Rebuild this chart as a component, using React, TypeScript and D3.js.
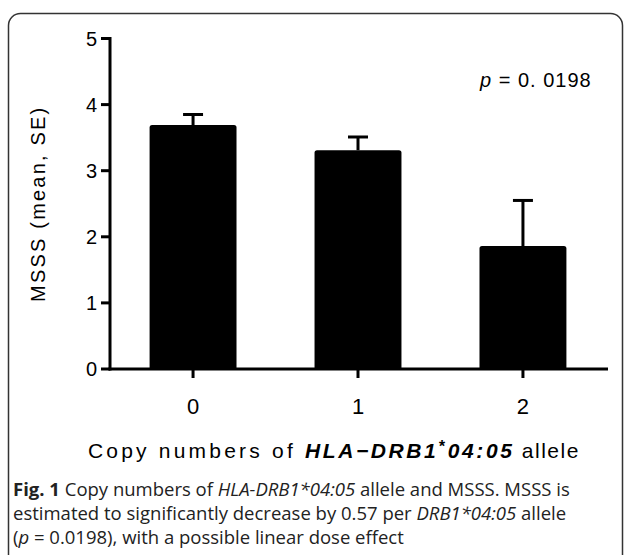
import React from "react";
import * as d3 from "d3";

const categories = ["0", "1", "2"];
const means = [3.69, 3.31, 1.86];
const ses = [0.16, 0.2, 0.69];
const yTicks = [0, 1, 2, 3, 4, 5];

const W = 625;
const H = 555;

export default function App() {
  const x = d3
    .scaleBand<string>()
    .domain(categories)
    .range([110, 606])
    .paddingInner(0.473)
    .paddingOuter(0.24);
  const y = d3.scaleLinear().domain([0, 5]).range([369, 38.5]);
  const bw = x.bandwidth();
  const chartFont = "'Liberation Sans', Arial, sans-serif";
  const capFont = "'Open Sans', 'Noto Sans', sans-serif";

  const barPath = (x0: number, y0: number, w: number, h: number, r: number) =>
    `M${x0},${y0 + h}V${y0 + r}Q${x0},${y0} ${x0 + r},${y0}H${x0 + w - r}Q${x0 + w},${y0} ${x0 + w},${y0 + r}V${y0 + h}Z`;

  return (
    <svg
      width={W}
      height={H}
      style={{ position: "absolute", left: 0, top: 0, background: "#fff" }}
    >
      <rect x={8.5} y={13.5} width={614} height={620} rx={12} fill="none" stroke="#333" strokeWidth={1.5} />

      {/* bars */}
      {categories.map((c, i) => {
        const x0 = x(c)!;
        const top = y(means[i]);
        const cx = x0 + bw / 2;
        const et = y(means[i] + ses[i]);
        return (
          <g key={c}>
            <line x1={cx} x2={cx} y1={top} y2={et} stroke="#000" strokeWidth={3} />
            <line x1={cx - 10} x2={cx + 10} y1={et} y2={et} stroke="#000" strokeWidth={3} />
            <path d={barPath(x0, top, bw, y(0) - top, 2.5)} fill="#000" />
          </g>
        );
      })}

      {/* y axis */}
      <line x1={110} x2={110} y1={y(5) - 1.5} y2={y(0) + 1.5} stroke="#000" strokeWidth={3} />
      {yTicks.map((t) => (
        <g key={t}>
          <line x1={101} x2={110} y1={y(t)} y2={y(t)} stroke="#000" strokeWidth={3} />
          <text
            x={97}
            y={y(t) + 7}
            textAnchor="end"
            fontFamily={chartFont}
            fontSize={20}
            fill="#000"
          >
            {t}
          </text>
        </g>
      ))}

      {/* x axis */}
      <line x1={108.5} x2={608} y1={y(0)} y2={y(0)} stroke="#000" strokeWidth={3} />
      {categories.map((c) => {
        const cx = x(c)! + bw / 2;
        return (
          <g key={c}>
            <line x1={cx} x2={cx} y1={y(0)} y2={y(0) + 9} stroke="#000" strokeWidth={3} />
            <text
              x={cx}
              y={414}
              textAnchor="middle"
              fontFamily={chartFont}
              fontSize={22}
              fill="#000"
            >
              {c}
            </text>
          </g>
        );
      })}

      {/* y axis label */}
      <text
        transform={`translate(45,${(y(0) + y(5)) / 2}) rotate(-90)`}
        textAnchor="middle"
        fontFamily={chartFont}
        fontSize={20}
        letterSpacing={2.2}
        fill="#000"
      >
        MSSS (mean, SE)
      </text>

      {/* p value */}
      <text x={480} y={87} fontFamily={chartFont} fontSize={20} fill="#000" letterSpacing={1}>
        <tspan fontStyle="italic">p</tspan>
        <tspan> = 0. 0198</tspan>
      </text>

      {/* x axis title */}
      <text x={88} y={458} fontFamily={chartFont} fontSize={21} fill="#000" letterSpacing={3.2}>
        <tspan>Copy numbers of </tspan>
        <tspan fontStyle="italic" fontWeight="bold" letterSpacing={2.6}>HLA−DRB1</tspan>
        <tspan fontStyle="italic" fontWeight="bold" dy={-6} fontSize={16}>*</tspan>
        <tspan fontStyle="italic" fontWeight="bold" dy={6} letterSpacing={2.6}>04:05</tspan>
        <tspan letterSpacing={1.5}> allele</tspan>
      </text>

      {/* caption */}
      <g fontFamily={capFont} fontSize={18.5} fill="#222">
        <text x={13} y={496}>
          <tspan fontWeight="bold">Fig. 1</tspan>
          <tspan> Copy numbers of </tspan>
          <tspan fontStyle="italic">HLA-DRB1*04:05</tspan>
          <tspan> allele and MSSS. MSSS is</tspan>
        </text>
        <text x={13} y={520}>
          <tspan>estimated to significantly decrease by 0.57 per </tspan>
          <tspan fontStyle="italic">DRB1*04:05</tspan>
          <tspan> allele</tspan>
        </text>
        <text x={13} y={544}>
          <tspan>(</tspan>
          <tspan fontStyle="italic">p</tspan>
          <tspan> = 0.0198), with a possible linear dose effect</tspan>
        </text>
      </g>
    </svg>
  );
}
